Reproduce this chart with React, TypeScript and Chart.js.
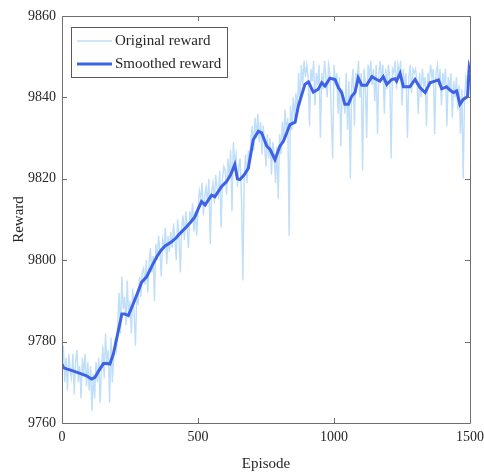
import React, { useEffect, useRef } from "react";
import { Chart, registerables } from "chart.js";

Chart.register(...registerables);

const X_TICKS = [0, 500, 1000, 1500];
const Y_TICKS = [9760, 9780, 9800, 9820, 9840, 9860];
const ORIGINAL_STEP = 5;

const originalReward = [
  9775, 9779, 9770, 9776, 9768, 9777, 9773, 9771, 9777, 9767, 9775, 9778, 9770, 9774, 9766, 9776, 9772, 9777, 9769, 9775,
  9768, 9774, 9763, 9772, 9766, 9775, 9770, 9776, 9765, 9773, 9779, 9771, 9782, 9774, 9778, 9765, 9781, 9770, 9776, 9780,
  9778, 9785, 9792, 9782, 9796, 9788, 9791, 9784, 9795, 9786, 9790, 9782, 9793, 9787, 9779, 9792, 9789, 9796, 9791, 9797,
  9798, 9794, 9800, 9792, 9799, 9803, 9797, 9801, 9790, 9804, 9800, 9806, 9802, 9796, 9805, 9803, 9808, 9799, 9806, 9802,
  9807, 9803, 9809, 9805, 9800, 9810, 9806, 9797, 9808, 9811, 9805, 9812, 9808, 9803, 9812, 9809, 9814, 9807, 9812, 9806,
  9812, 9817, 9815, 9819, 9811, 9816, 9818, 9814, 9820, 9804, 9817, 9819, 9814, 9821, 9818, 9816, 9822, 9808, 9820, 9823,
  9822, 9816, 9825, 9820, 9827, 9812, 9829, 9824, 9826, 9818, 9823, 9825, 9815, 9795, 9821, 9826, 9819, 9827, 9824, 9830,
  9833, 9827, 9835, 9830, 9836, 9829, 9834, 9826, 9833, 9828, 9823, 9831, 9825, 9830, 9821, 9829, 9826, 9819, 9828, 9815,
  9831, 9826, 9834, 9829, 9837, 9831, 9835, 9806, 9838, 9832, 9840, 9835, 9841, 9837, 9846, 9838, 9848, 9843, 9849, 9845,
  9848, 9845, 9833, 9847, 9844, 9849, 9838, 9846, 9843, 9848, 9830, 9846, 9842, 9849, 9845, 9840, 9848, 9846, 9836, 9825,
  9848, 9843, 9846, 9836, 9845, 9828, 9842, 9840, 9836, 9846, 9832, 9844, 9820, 9843, 9847, 9833, 9846, 9844, 9849, 9840,
  9846, 9822, 9847, 9844, 9830, 9848, 9845, 9849, 9843, 9847, 9839, 9848, 9831, 9846, 9849, 9844, 9848, 9836, 9847, 9842,
  9848, 9845, 9825, 9847, 9846, 9849, 9842, 9848, 9846, 9849, 9838, 9847, 9843, 9846, 9830, 9845, 9848, 9841, 9847, 9846,
  9847, 9844, 9836, 9846, 9840, 9847, 9843, 9845, 9833, 9846, 9844, 9848, 9845, 9847, 9831, 9846, 9848, 9843, 9847, 9838,
  9846, 9843, 9847, 9833, 9845, 9842, 9846, 9835, 9844, 9840, 9845, 9837, 9843, 9831, 9842, 9820, 9840, 9845, 9843, 9848, 9849,
];

const smoothEpisodes = [
  0, 5, 17, 40, 66, 90, 109, 121, 135, 152, 165, 176, 189, 205, 220, 230, 244, 262, 278, 293,
  311, 330, 348, 365, 379, 403, 420, 434, 458, 475, 489, 500, 513, 526, 550, 562, 587, 605, 620, 635,
  645, 654, 670, 685, 703, 722, 734, 753, 765, 783, 801, 814, 838, 857, 869, 893, 906, 924, 942, 955,
  967, 985, 1004, 1016, 1028, 1040, 1053, 1065, 1077, 1089, 1102, 1120, 1139, 1157, 1169, 1181, 1194, 1212, 1224, 1230,
  1243, 1255, 1279, 1298, 1316, 1335, 1353, 1371, 1384, 1396, 1414, 1426, 1439, 1451, 1463, 1475, 1491, 1497, 1500,
];

const smoothReward = [
  9774.5, 9773.6, 9773.3, 9772.8, 9772.2, 9771.6, 9770.8, 9771.2, 9772.8, 9774.6, 9774.6, 9774.5, 9777, 9782, 9786.8, 9786.8, 9786.4, 9789.3, 9792, 9794.6,
  9795.9, 9798.5, 9800.8, 9802.5, 9803.5, 9804.5, 9805.5, 9806.6, 9808.2, 9809.5, 9810.7, 9812.5, 9814.4, 9813.6, 9816, 9815.6, 9818.1, 9819.3, 9821, 9823.5,
  9820, 9819.8, 9821, 9822.6, 9829.6, 9831.7, 9831.3, 9828, 9827.2, 9824.7, 9828, 9829.2, 9833.3, 9833.9, 9837.9, 9843.2, 9843.8, 9841.3, 9842, 9843.6,
  9842.8, 9844.7, 9844.4, 9842.4, 9841.2, 9838.3, 9838.3, 9840.3, 9841.2, 9844.8, 9843, 9843, 9845.1, 9844.4, 9844, 9845.1, 9843.2, 9844.4, 9844.6, 9844,
  9845.9, 9842.6, 9842.6, 9844.4, 9842.4, 9841.2, 9843.6, 9844, 9844.3, 9842.1, 9842.6, 9841.8, 9841.2, 9841.6, 9838.3, 9839.5, 9840.2, 9846.9, 9846,
];

const LABELS = ["Original reward", "Smoothed reward"];
const ORIGINAL_COLOR = "#bfdef9";
const SMOOTH_COLOR = "#3d62e6";
const FONT = "'Liberation Serif', 'Times New Roman', serif";
const TEXT_COLOR = "#262626";
const AXIS_COLOR = "#707070";

const framePlugin = {
  id: "frame",
  afterDraw(chart: any) {
    const { ctx, chartArea } = chart;
    const { left, right, top, bottom } = chartArea;
    const xs = chart.scales.x;
    const ys = chart.scales.y;
    ctx.save();
    ctx.strokeStyle = AXIS_COLOR;
    ctx.lineWidth = 1;
    ctx.beginPath();
    ctx.rect(Math.round(left) + 0.5, Math.round(top) + 0.5, Math.round(right - left), Math.round(bottom - top));
    ctx.stroke();
    const tl = 5;
    ctx.beginPath();
    X_TICKS.forEach((v) => {
      const px = Math.round(xs.getPixelForValue(v)) + 0.5;
      ctx.moveTo(px, bottom);
      ctx.lineTo(px, bottom - tl);
      ctx.moveTo(px, top);
      ctx.lineTo(px, top + tl);
    });
    Y_TICKS.forEach((v) => {
      const py = Math.round(ys.getPixelForValue(v)) + 0.5;
      ctx.moveTo(left, py);
      ctx.lineTo(left + tl, py);
      ctx.moveTo(right, py);
      ctx.lineTo(right - tl, py);
    });
    ctx.stroke();

    // legend
    const bx = 71.5, by = 27.5, bw = 156, bh = 50;
    ctx.fillStyle = "#ffffff";
    ctx.fillRect(bx, by, bw, bh);
    ctx.strokeStyle = "#5a5a5a";
    ctx.lineWidth = 1;
    ctx.strokeRect(bx, by, bw, bh);
    const rows = [
      { color: ORIGINAL_COLOR, width: 1.5, y: 41 },
      { color: SMOOTH_COLOR, width: 3, y: 64 },
    ];
    ctx.font = `15px ${FONT}`;
    ctx.textBaseline = "middle";
    ctx.textAlign = "left";
    rows.forEach((r, i) => {
      ctx.strokeStyle = r.color;
      ctx.lineWidth = r.width;
      ctx.beginPath();
      ctx.moveTo(77, r.y);
      ctx.lineTo(112, r.y);
      ctx.stroke();
      ctx.fillStyle = TEXT_COLOR;
      ctx.fillText(LABELS[i], 115, r.y);
    });
    ctx.restore();
  },
};

export default function App() {
  const ref = useRef<HTMLCanvasElement>(null);
  useEffect(() => {
    document.body.style.margin = "0";
    const originalData = originalReward.map((v, i) => ({ x: i * ORIGINAL_STEP, y: v }));
    const smoothData = smoothReward.map((v, i) => ({ x: smoothEpisodes[i], y: v }));
    const chart = new Chart(ref.current as HTMLCanvasElement, {
      type: "line",
      data: {
        datasets: [
          {
            label: LABELS[0],
            data: originalData,
            borderColor: ORIGINAL_COLOR,
            borderWidth: 1.4,
            pointRadius: 0,
            tension: 0,
            fill: false,
            order: 2,
          },
          {
            label: LABELS[1],
            data: smoothData,
            borderColor: SMOOTH_COLOR,
            borderWidth: 3,
            pointRadius: 0,
            tension: 0,
            fill: false,
            order: 1,
          },
        ],
      },
      options: {
        animation: false,
        responsive: false,
        layout: { padding: { top: 16, right: 14, left: 0, bottom: 0 } },
        plugins: { legend: { display: false }, tooltip: { enabled: false } },
        scales: {
          x: {
            type: "linear",
            min: 0,
            max: 1500,
            afterFit: (s: any) => { s.height = 50; s.paddingLeft = 0; s.paddingRight = 0; },
            afterBuildTicks: (s: any) => { s.ticks = X_TICKS.map((v) => ({ value: v })); },
            grid: { display: false, drawTicks: false },
            border: { display: false },
            ticks: { color: TEXT_COLOR, font: { family: FONT, size: 14 }, padding: 6, maxRotation: 0, callback: (v: any) => String(v) },
            title: { display: true, text: "Episode", color: TEXT_COLOR, font: { family: FONT, size: 15 }, padding: { top: 2, bottom: 0 } },
          },
          y: {
            type: "linear",
            min: 9760,
            max: 9860,
            afterFit: (s: any) => { s.width = 62; s.paddingTop = 0; s.paddingBottom = 0; },
            afterBuildTicks: (s: any) => { s.ticks = Y_TICKS.map((v) => ({ value: v })); },
            grid: { display: false, drawTicks: false },
            border: { display: false },
            ticks: { color: TEXT_COLOR, font: { family: FONT, size: 14 }, padding: 6, callback: (v: any) => String(v) },
            title: { display: true, text: "Reward", color: TEXT_COLOR, font: { family: FONT, size: 15 }, padding: { top: 10, bottom: 0 } },
          },
        },
      },
      plugins: [framePlugin],
    });
    return () => chart.destroy();
  }, []);
  return <canvas ref={ref} width={484} height={473} style={{ display: "block", width: 484, height: 473 }} />;
}
